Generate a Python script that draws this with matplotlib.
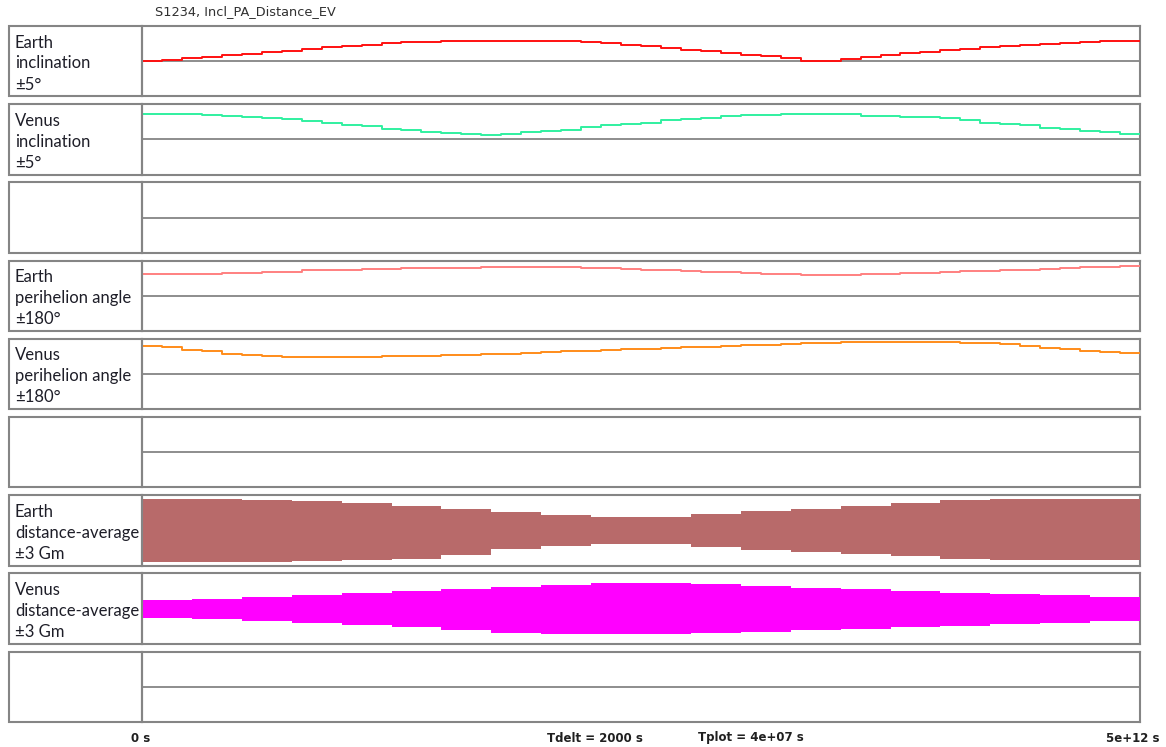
import numpy as np
import matplotlib
matplotlib.use("Agg")
import matplotlib.pyplot as plt
from matplotlib.patches import Rectangle

# ---------------------------------------------------------------- data
T_END = 5e12                      # plotted time span, s
t_fine = np.arange(50) * 0.1e12   # sampling of the angle traces, s
t_env = np.arange(21) * 0.25e12   # sampling of the distance envelopes, s

earth_incl = [0.00, 0.21, 0.43, 0.64, 0.86, 1.07, 1.29, 1.50, 1.71, 2.00,
              2.21, 2.36, 2.53, 2.67, 2.79, 2.81, 2.81, 2.81, 2.81, 2.81,
              2.81, 2.81, 2.71, 2.57, 2.36, 2.14, 1.86, 1.64, 1.43, 1.14,
              0.93, 0.71, 0.43, 0.04, 0.04, 0.36, 0.57, 0.86, 1.14, 1.36,
              1.57, 1.79, 2.00, 2.14, 2.29, 2.43, 2.57, 2.71, 2.81, 2.81]

venus_incl = [3.54, 3.54, 3.54, 3.40, 3.30, 3.21, 3.03, 2.83, 2.64, 2.26,
              2.07, 1.86, 1.54, 1.36, 1.07, 0.97, 0.83, 0.64, 0.83, 1.03,
              1.17, 1.40, 1.74, 2.07, 2.21, 2.40, 2.69, 2.89, 3.07, 3.26,
              3.40, 3.40, 3.54, 3.54, 3.54, 3.54, 3.36, 3.36, 3.17, 3.17,
              2.97, 2.79, 2.40, 2.21, 2.03, 1.64, 1.50, 1.17, 1.03, 0.79]

earth_pa = [111, 111, 114, 114, 119, 119, 124, 124, 130, 130,
            130, 135, 135, 140, 140, 142, 144, 145, 146, 146,
            146, 145, 143, 140, 137, 134, 130, 127, 124, 120,
            117, 114, 111, 108, 107, 108, 110, 113, 116, 119,
            122, 125, 128, 131, 134, 137, 141, 145, 149, 153]

venus_pa = [141, 136, 124, 117, 103, 97, 92, 86, 86, 86,
            86, 86, 92, 92, 94, 97, 99, 102, 104, 107,
            112, 117, 120, 122, 128, 130, 133, 138, 140, 143,
            146, 148, 153, 156, 158, 164, 164, 164, 164, 164,
            164, 161, 156, 151, 143, 135, 128, 117, 110, 107]

earth_dist_hi = [2.66, 2.66, 2.60, 2.50, 2.35, 2.10, 1.85, 1.60, 1.30, 1.15,
                 1.15, 1.40, 1.65, 1.85, 2.10, 2.35, 2.55, 2.65, 2.66, 2.66, 2.66]
earth_dist_lo = [-2.72, -2.70, -2.66, -2.60, -2.50, -2.40, -2.10, -1.60, -1.30, -1.15,
                 -1.15, -1.40, -1.65, -1.85, -2.05, -2.20, -2.40, -2.50, -2.50, -2.50, -2.50]

venus_dist_hi = [0.74, 0.82, 1.00, 1.17, 1.34, 1.50, 1.68, 1.85, 2.02, 2.17,
                 2.17, 2.07, 1.94, 1.77, 1.64, 1.50, 1.37, 1.25, 1.12, 0.99, 0.99]
venus_dist_lo = [-0.83, -0.89, -1.02, -1.23, -1.40, -1.58, -1.79, -2.09, -2.18, -2.20,
                 -2.20, -2.09, -2.00, -1.83, -1.70, -1.58, -1.45, -1.32, -1.19, -1.06, -0.98]

panel_labels = [
    ["Earth", "inclination", "±5°"],
    ["Venus", "inclination", "±5°"],
    [],
    ["Earth", "perihelion angle", "±180°"],
    ["Venus", "perihelion angle", "±180°"],
    [],
    ["Earth", "distance-average", "±3 Gm"],
    ["Venus", "distance-average", "±3 Gm"],
    [],
]
panel_ranges = [5, 5, 1, 180, 180, 1, 3, 3, 1]

title = "S1234, Incl_PA_Distance_EV"
time_start_label = "0 s"
time_end_label = "5e+12 s"
tdelt_label = "Tdelt = 2000 s"
tplot_label = "Tplot = 4e+07 s"

# ---------------------------------------------------------------- layout
W, H = 1166, 747
fig = plt.figure(figsize=(W / 100, H / 100), dpi=100)
fig.patch.set_facecolor("white")

FRAME = "#858585"
TEXT = "#1e1e28"
X_LEFT, X_SPLIT, X_RIGHT = 9, 142, 1140
TOP0, PITCH, PANEL_H = 26, 78.2, 70.4


def fx(px):
    return px / W


def fy(py):
    return 1 - py / H


axes = []
for i in range(9):
    top = TOP0 + PITCH * i
    # label box
    fig.patches.append(Rectangle((fx(X_LEFT), fy(top + PANEL_H)),
                                 fx(X_SPLIT - X_LEFT), PANEL_H / H,
                                 transform=fig.transFigure, fill=False,
                                 edgecolor=FRAME, linewidth=1.5, zorder=5))
    for j, line in enumerate(panel_labels[i]):
        fig.text(fx(15), fy(top + 16.5 + 21 * j), line, ha="left", va="center",
                 fontsize=12, family=["Lato", "DejaVu Sans"], color=TEXT)
    # trace box
    ax = fig.add_axes([fx(X_SPLIT), fy(top + PANEL_H),
                       fx(X_RIGHT - X_SPLIT), PANEL_H / H])
    ax.set_xlim(0, T_END)
    r = panel_ranges[i]
    ax.set_ylim(-r, r)
    ax.set_xticks([])
    ax.set_yticks([])
    for s in ax.spines.values():
        s.set_color(FRAME)
        s.set_linewidth(1.5)
    ax.axhline(0, color=FRAME, linewidth=1.3, zorder=1)
    axes.append(ax)


def step_trace(ax, t, v, color):
    tt = np.append(t, T_END)
    vv = np.append(v, v[-1])
    ax.step(tt, vv, where="post", color=color, linewidth=1.4, zorder=3)


step_trace(axes[0], t_fine, earth_incl, "#ff1010")
step_trace(axes[1], t_fine, venus_incl, "#30f0a0")
step_trace(axes[3], t_fine, earth_pa, "#ff8080")
step_trace(axes[4], t_fine, venus_pa, "#ff8c1a")

axes[6].fill_between(t_env, earth_dist_lo, earth_dist_hi, step="post",
                     color="#b86a6a", linewidth=0, zorder=3)
axes[7].fill_between(t_env, venus_dist_lo, venus_dist_hi, step="post",
                     color="#ff00ff", linewidth=0, zorder=3)

# ---------------------------------------------------------------- text
fig.text(fx(155), fy(12), title, ha="left", va="center", fontsize=9.3,
         family="DejaVu Sans", color="#303030")

bold_narrow = dict(fontsize=8.5, fontweight="bold", va="center",
                   family=["Liberation Sans Narrow", "DejaVu Sans"],
                   color="#202020")
fig.text(fx(141), fy(738), time_start_label, ha="center", **bold_narrow)
fig.text(fx(595), fy(738), tdelt_label, ha="center", **bold_narrow)
fig.text(fx(751), fy(738), tplot_label, ha="center", **bold_narrow)
fig.text(fx(1160), fy(738), time_end_label, ha="right", **bold_narrow)

fig.savefig("out.png", dpi=100, facecolor="white")
